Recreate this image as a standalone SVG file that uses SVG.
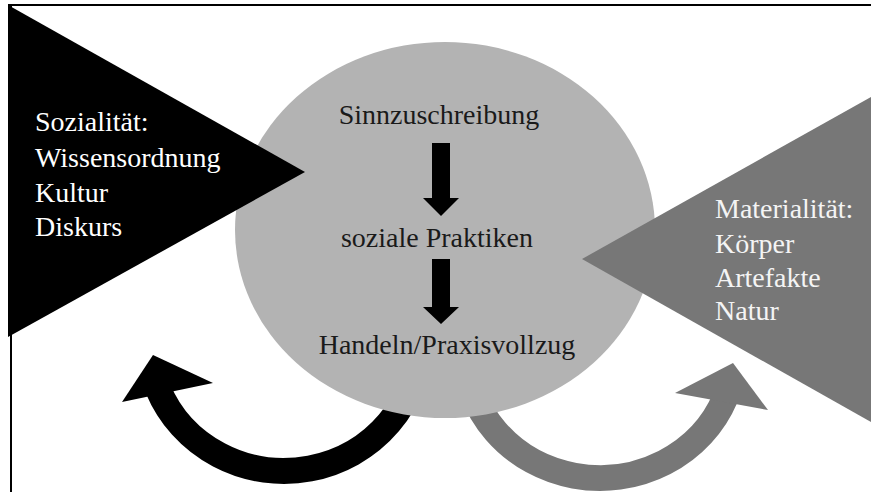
<svg xmlns="http://www.w3.org/2000/svg" width="871" height="492" viewBox="0 0 871 492">
<style>
.t{font-family:"Liberation Serif","Times New Roman",serif;font-size:28px}
.lt{fill:#ffffff}
.rt{fill:#f4f4f4}
.ct{fill:#1a1a1a;text-anchor:middle}
.frame{stroke:#000;stroke-width:2;fill:none}
</style>
<rect width="871" height="492" fill="#ffffff"/>
<g id="frame">
<line class="frame" x1="8" y1="5" x2="871" y2="5"/>
<line class="frame" x1="11" y1="5" x2="11" y2="492"/>
</g>
<g id="connectors">
<path d="M 420 339 A 136 132 0 0 1 157.9 388.4" fill="none" stroke="#000000" stroke-width="26"/>
<polygon points="122,402 153,355 213,383" fill="#000000"/>
<path d="M 465 350 A 135 128 0 0 0 725.2 397.9" fill="none" stroke="#777777" stroke-width="26"/>
<polygon points="675,393 733,363 768,410" fill="#777777"/>
</g>
<g id="node-praxis">
<ellipse cx="445" cy="230" rx="210" ry="188" fill="#b3b3b3"/>
<text class="t ct" x="439" y="124">Sinnzuschreibung</text>
<text class="t ct" x="437" y="247">soziale Praktiken</text>
<text class="t ct" x="447" y="354">Handeln/Praxisvollzug</text>
<polygon points="432,143 450,143 450,198 459,198 441,216 423,198 432,198" fill="#000000"/>
<polygon points="432,259 450,259 450,307 459,307 441,324 423,307 432,307" fill="#000000"/>
</g>
<g id="node-sozialitaet">
<polygon points="8,5 305,172 8,337" fill="#000000"/>
<text class="t lt" x="35" y="131">Sozialität:</text>
<text class="t lt" x="35" y="167">Wissensordnung</text>
<text class="t lt" x="35" y="202">Kultur</text>
<text class="t lt" x="35" y="236">Diskurs</text>
</g>
<g id="node-materialitaet">
<polygon points="582,259 871,97 871,422" fill="#777777"/>
<text class="t rt" x="715" y="218">Materialität:</text>
<text class="t rt" x="715" y="253">Körper</text>
<text class="t rt" x="715" y="287">Artefakte</text>
<text class="t rt" x="715" y="320">Natur</text>
</g>
</svg>
